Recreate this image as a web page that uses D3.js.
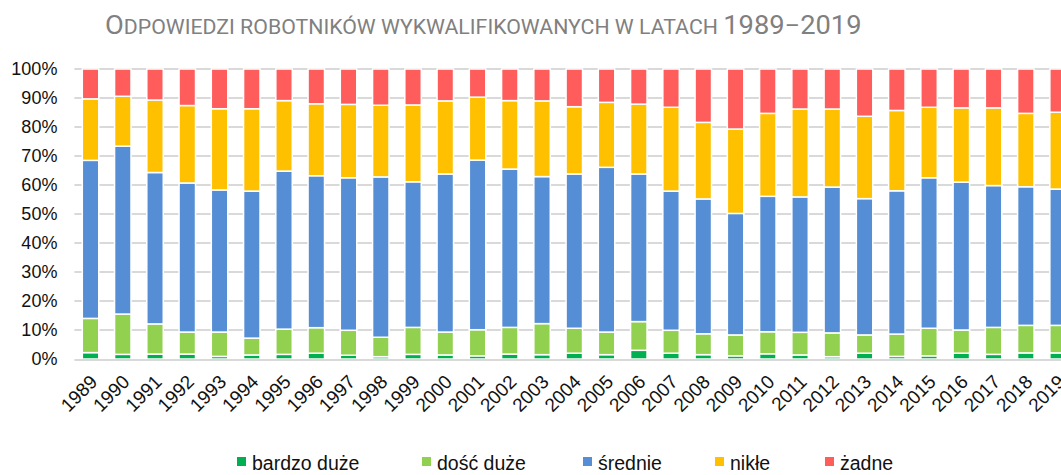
<!DOCTYPE html>
<html>
<head>
<meta charset="utf-8">
<script src="https://cdn.jsdelivr.net/npm/d3@7"></script>
<style>
  body { margin: 0; background: #fff; }
  svg { display: block; }
  text { font-family: "Liberation Sans", Arial, sans-serif; }
</style>
</head>
<body>
<div id="chart"></div>
<script>
////////////////////////////////////////////////////////////////////////////////
// Data (percent of answers per year)
var years = d3.range(1989, 2020).map(String);
var seriesNames = ['bardzo duże', 'dość duże', 'średnie', 'nikłe', 'żadne'];
var seriesColors = ['#00b050', '#92d050', '#558ed5', '#ffc000', '#ff5c5c'];

var bardzoDuze = [2.2, 1.6, 1.7, 1.7, 0.9, 1.4, 1.6, 2.0, 1.3, 0.8, 1.6, 1.4, 1.1, 1.7, 1.5, 2.0,
                  1.5, 3.0, 2.0, 1.5, 1.1, 1.8, 1.4, 0.8, 2.0, 0.9, 1.1, 2.0, 1.6, 2.1, 2.1];
var dosDuze    = [11.8, 13.9, 10.4, 7.6, 8.4, 5.8, 8.7, 8.8, 8.6, 6.7, 9.3, 7.9, 9.0, 9.2, 10.7, 8.6,
                  7.8, 9.9, 7.9, 7.2, 7.2, 7.6, 7.8, 8.2, 6.3, 7.7, 9.5, 8.0, 9.3, 9.5, 9.5];
var srednie    = [54.5, 57.9, 52.2, 51.4, 49.0, 50.7, 54.5, 52.4, 52.6, 55.3, 50.2, 54.5, 58.5, 54.6, 50.7, 53.2,
                  56.8, 50.9, 48.0, 46.5, 41.9, 46.7, 46.7, 50.3, 47.0, 49.4, 51.9, 51.0, 48.9, 47.8, 47.0];
var nikle      = [21.2, 17.2, 25.0, 26.7, 28.0, 28.4, 24.3, 24.8, 25.3, 24.7, 26.5, 25.2, 21.7, 23.6, 26.1, 23.2,
                  22.4, 24.1, 28.9, 26.4, 29.1, 28.6, 30.3, 26.9, 28.4, 27.7, 24.3, 25.6, 26.8, 25.3, 26.5];
var zadne      = [10.3, 9.4, 10.7, 12.6, 13.7, 13.7, 10.9, 12.0, 12.2, 12.5, 12.4, 11.0, 9.7, 10.9, 11.0, 13.0,
                  11.5, 12.1, 13.2, 18.4, 20.7, 15.3, 13.8, 13.8, 16.3, 14.3, 13.2, 13.4, 13.4, 15.3, 14.9];
var yTicks = [0, 10, 20, 30, 40, 50, 60, 70, 80, 90, 100];

////////////////////////////////////////////////////////////////////////////////
// Build table for d3.stack
var table = years.map(function(y, i){
	var row = {year: y};
	row[seriesNames[0]] = bardzoDuze[i];
	row[seriesNames[1]] = dosDuze[i];
	row[seriesNames[2]] = srednie[i];
	row[seriesNames[3]] = nikle[i];
	row[seriesNames[4]] = zadne[i];
	return row;
});
var stacked = d3.stack().keys(seriesNames)
	.offset(d3.stackOffsetExpand)(table);

var W = 1061, H = 475;
var plotLeft = 74.4, plotRight = 1074.2, plotTop = 69, plotBottom = 359;

var svg = d3.select('#chart').append('svg')
	.attr('width', W)
	.attr('height', H);

var x = d3.scaleBand().domain(years)
	.range([plotLeft, plotRight])
	.paddingInner(0.49)
	.paddingOuter(0.245);
var y = d3.scaleLinear().domain([0, 1]).range([plotBottom, plotTop]);

////////////////////////////////////////////////////////////////////////////////
// Gridlines
svg.append('g').selectAll('line')
	.data(yTicks.filter(function(d){ return d > 0; }))
	.enter().append('line')
	.attr('x1', plotLeft).attr('x2', plotRight)
	.attr('y1', function(d){ return y(d / 100); })
	.attr('y2', function(d){ return y(d / 100); })
	.attr('stroke', '#d9d9d9')
	.attr('stroke-width', 2);

// Bars
svg.append('g').selectAll('g')
	.data(stacked)
	.enter().append('g')
	.attr('fill', function(d, i){ return seriesColors[i]; })
	.selectAll('rect')
	.data(function(d){ return d; })
	.enter().append('rect')
	.attr('x', function(d){ return x(d.data.year); })
	.attr('width', x.bandwidth())
	.attr('y', function(d){ return y(d[1]); })
	.attr('height', function(d){ return y(d[0]) - y(d[1]); })
	.attr('stroke', '#fff')
	.attr('stroke-width', 1.5);

// Baseline
svg.append('line')
	.attr('x1', plotLeft).attr('x2', plotRight)
	.attr('y1', plotBottom + 1).attr('y2', plotBottom + 1)
	.attr('stroke', '#d9d9d9')
	.attr('stroke-width', 2);

////////////////////////////////////////////////////////////////////////////////
// Y axis labels
var yAxis = svg.append('g')
	.attr('transform', 'translate(' + (plotLeft - 3) + ',0)')
	.call(d3.axisLeft(y)
		.tickValues(yTicks.map(function(d){ return d / 100; }))
		.tickFormat(d3.format('.0%'))
		.tickSize(0)
		.tickPadding(14));
yAxis.select('.domain').remove();
yAxis.selectAll('text')
	.style('font-size', '18px')
	.attr('fill', '#111');

// X axis labels (rotated)
var xAxis = svg.append('g')
	.attr('transform', 'translate(0,' + plotBottom + ')')
	.call(d3.axisBottom(x).tickSize(0).tickPadding(0));
xAxis.select('.domain').remove();
xAxis.selectAll('text')
	.style('font-size', '19px')
	.attr('fill', '#111')
	.attr('text-anchor', 'end')
	.attr('dy', 0)
	.attr('transform', 'translate(8,24) rotate(-45)');

////////////////////////////////////////////////////////////////////////////////
// Title with small caps, fitted to width
var title = svg.append('text')
	.attr('x', 105)
	.attr('y', 34)
	.attr('fill', '#808080')
	.style('font-family', 'Roboto, sans-serif');
var parts = [['O', 25], ['DPOWIEDZI ROBOTNIKÓW WYKWALIFIKOWANYCH W LATACH ', 19.5], ['1989−2019', 25]];
parts.forEach(function(p){
	title.append('tspan').style('font-size', p[1] + 'px').text(p[0]);
});
var tw = title.node().getComputedTextLength();
var sx = 757 / tw;
title.attr('transform', 'translate(105,0) scale(' + sx + ',1) translate(-105,0)');

////////////////////////////////////////////////////////////////////////////////
// Legend
var legendX = [237, 422, 583, 715, 825];
var legend = svg.append('g').selectAll('g')
	.data(seriesNames)
	.enter().append('g')
	.attr('transform', function(d, i){ return 'translate(' + legendX[i] + ',457)'; });
legend.append('rect')
	.attr('width', 9).attr('height', 9)
	.attr('fill', function(d, i){ return seriesColors[i]; });
legend.append('text')
	.attr('x', 15).attr('y', 13)
	.style('font-size', '19.5px')
	.attr('fill', '#111')
	.text(function(d){ return d; });
</script>
</body>
</html>
